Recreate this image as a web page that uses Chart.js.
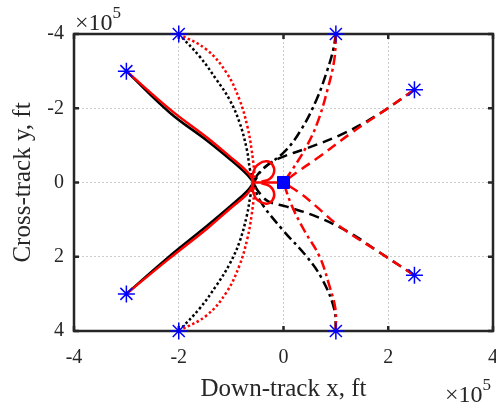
<!DOCTYPE html>
<html><head><meta charset="utf-8">
<script src="https://cdn.jsdelivr.net/npm/chart.js@4.4.1/dist/chart.umd.min.js"></script>
<style>html,body{margin:0;padding:0;background:#fff;overflow:hidden}canvas{display:block}</style>
</head><body>
<canvas id="c" width="496" height="408"></canvas>
<script>
// All positions in units of 1e5 ft
const xTicks = [-4, -2, 0, 2, 4];
const yTicks = [-4, -2, 0, 2, 4];
const expLabel = '5';

// start points (blue asterisks) and target (blue square)
const startPoints = [[-3,-3],[-2,-4],[1,-4],[2.5,-2.5],[2.5,2.5],[1,4],[-2,4],[-3,3]];
const targetPoint = [[0,0]];

// solid (from (-3,±3))
const blackSolidTop = [[-3,-3],[-2.17,-1.88],[-1.47,-1.14],[-1.0,-0.6],[-0.7,-0.22],[-0.57,0]];
const redSolidTop   = [[-3,-3],[-2.15,-1.95],[-1.45,-1.2],[-1.0,-0.67],[-0.7,-0.3],[-0.57,-0.05]];
const blackSolidBot = [[-3,3],[-2.23,2.05],[-1.47,1.18],[-1.0,0.62],[-0.7,0.24],[-0.57,0]];
const redSolidBot   = [[-3,3],[-2.2,2.07],[-1.45,1.23],[-1.0,0.68],[-0.7,0.32],[-0.57,0.05]];

// dotted (from (-2,±4))
const blackDotTop = [[-2,-4],[-1.6,-3.39],[-1.28,-2.77],[-1.03,-2.23],[-0.84,-1.62],[-0.7,-0.89],[-0.64,-0.35],[-0.57,0]];
const redDotTop   = [[-2,-4],[-1.47,-3.58],[-1.09,-2.96],[-0.84,-2.23],[-0.69,-1.51],[-0.61,-0.89],[-0.56,-0.3],[-0.55,-0.05]];
const blackDotBot = [[-2,4],[-1.6,3.39],[-1.28,2.77],[-1.03,2.2],[-0.84,1.6],[-0.7,0.89],[-0.63,0.35],[-0.57,0]];
const redDotBot   = [[-2,4],[-1.47,3.58],[-1.09,2.96],[-0.84,2.23],[-0.69,1.51],[-0.61,0.89],[-0.56,0.3],[-0.55,0.05]];

// dash-dot (from (1,±4))
const blackDdTop = [[1,-4],[0.95,-3.58],[0.84,-3.04],[0.63,-2.23],[0.34,-1.43],[0.02,-0.83],[-0.4,-0.35],[-0.57,0]];
const redDdTop   = [[1,-4],[0.97,-3.31],[0.84,-2.5],[0.65,-1.62],[0.44,-0.97],[0.17,-0.35],[0,0]];
const blackDdBot = [[1,4],[0.97,3.42],[0.74,2.61],[0.44,1.99],[-0.02,1.27],[-0.46,0.46],[-0.57,0]];
const redDdBot   = [[1,4],[0.99,3.4],[0.88,2.8],[0.69,2.0],[0.4,1.3],[0.15,0.6],[0,0]];

// dashed (from (2.5,±2.5))
const blackDashTop = [[2.5,-2.5],[1.77,-1.8],[1.07,-1.27],[0.44,-0.92],[-0.05,-0.67],[-0.3,-0.48],[-0.5,-0.2],[-0.57,0]];
const redDashTop   = [[2.5,-2.5],[1.96,-1.97],[1.31,-1.35],[0.69,-0.7],[0.25,-0.27],[0,0]];
const blackDashBot = [[2.5,2.5],[1.83,1.88],[1.26,1.35],[0.63,0.92],[0.06,0.65],[-0.3,0.5],[-0.5,0.2],[-0.57,0]];
const redDashBot   = [[2.5,2.5],[1.85,1.9],[1.07,1.18],[0.63,0.65],[0.35,0.32],[0,0]];

// terminal loops of red trajectories
const redLoopTop = [[-0.6,0],[-0.57,-0.3],[-0.47,-0.5],[-0.32,-0.57],[-0.21,-0.48],[-0.18,-0.28],[-0.26,-0.1],[-0.42,-0.02]];
const redLoopBot = [[-0.6,0],[-0.57,0.3],[-0.47,0.5],[-0.32,0.57],[-0.21,0.48],[-0.18,0.28],[-0.26,0.1],[-0.42,0.02]];
const redTail    = [[-0.6,0],[0,0]];

const FONT = 'Liberation Serif, Times New Roman, serif';
const AX = '#262626';
const pts = a => a.map(([x, y]) => ({x, y}));
const DOT = [2.5, 2.5], DASH = [10, 6], DASHDOT = [10, 4, 3, 4];

function line(data, color, dash, order, tension) {
  return {data: pts(data), borderColor: color, backgroundColor: color, borderWidth: 2.5,
    borderDash: dash, pointRadius: 0, showLine: true, fill: false,
    tension: tension === undefined ? 0.4 : tension, order, clip: false};
}

const datasets = [
  {data: pts(startPoints), pointStyle: 'star', pointRadius: 8.5, borderColor: '#0000ff',
   backgroundColor: '#0000ff', pointBorderWidth: 1.5, showLine: false, order: 0, clip: false},
  {data: pts(targetPoint), pointStyle: 'rect', pointRadius: 8.5, borderColor: '#0000ff',
   backgroundColor: '#0000ff', pointBorderWidth: 1, showLine: false, order: 0, clip: false},
  line(redSolidTop, '#ff0000', [], 1), line(redSolidBot, '#ff0000', [], 1),
  line(redDotTop, '#ff0000', DOT, 1), line(redDotBot, '#ff0000', DOT, 1),
  line(redDdTop, '#ff0000', DASHDOT, 1), line(redDdBot, '#ff0000', DASHDOT, 1),
  line(redDashTop, '#ff0000', DASH, 1), line(redDashBot, '#ff0000', DASH, 1),
  line(redLoopTop, '#ff0000', [], 1, 0.5), line(redLoopBot, '#ff0000', [], 1, 0.5),
  line(redTail, '#ff0000', [], 1, 0),
  line(blackSolidTop, '#000000', [], 2), line(blackSolidBot, '#000000', [], 2),
  line(blackDotTop, '#000000', DOT, 2), line(blackDotBot, '#000000', DOT, 2),
  line(blackDdTop, '#000000', DASHDOT, 2), line(blackDdBot, '#000000', DASHDOT, 2),
  line(blackDashTop, '#000000', DASH, 2), line(blackDashBot, '#000000', DASH, 2)
];

function drawExp(ctx, x, yBase) {
  ctx.font = '24px ' + FONT;
  ctx.textAlign = 'left';
  ctx.textBaseline = 'alphabetic';
  const base = '\u00d710';
  ctx.fillText(base, x, yBase);
  const w = ctx.measureText(base).width;
  ctx.font = '17px ' + FONT;
  ctx.fillText(expLabel, x + w, yBase - 12);
}

const framePlugin = {
  id: 'frame',
  beforeDatasetsDraw(chart) {
    const {ctx, chartArea: a, scales: {x, y}} = chart;
    ctx.save();
    ctx.strokeStyle = AX;
    ctx.lineWidth = 2.5;
    ctx.strokeRect(a.left, a.top, a.right - a.left, a.bottom - a.top);
    const t = 5;
    ctx.beginPath();
    xTicks.forEach(v => {
      const p = x.getPixelForValue(v);
      ctx.moveTo(p, a.bottom); ctx.lineTo(p, a.bottom - t);
      ctx.moveTo(p, a.top); ctx.lineTo(p, a.top + t);
    });
    yTicks.forEach(v => {
      const p = y.getPixelForValue(v);
      ctx.moveTo(a.left, p); ctx.lineTo(a.left + t, p);
      ctx.moveTo(a.right, p); ctx.lineTo(a.right - t, p);
    });
    ctx.stroke();
    ctx.fillStyle = AX;
    drawExp(ctx, a.left + 1, a.top - 4);
    drawExp(ctx, a.right - 48, a.bottom + 71);
    ctx.restore();
  }
};

const tickFont = {family: FONT, size: 20};
const titleFont = {family: FONT, size: 25};

new Chart(document.getElementById('c'), {
  type: 'scatter',
  data: {datasets},
  options: {
    responsive: false, animation: false,
    layout: {autoPadding: false, padding: {left: 0, right: 3, top: 34, bottom: 0}},
    plugins: {legend: {display: false}, tooltip: {enabled: false}},
    scales: {
      x: {
        type: 'linear', min: -4, max: 4,
        afterBuildTicks: s => { s.ticks = xTicks.map(v => ({value: v})); },
        ticks: {font: tickFont, color: AX, padding: 15, maxRotation: 0, autoSkip: false, callback: v => String(v)},
        grid: {color: '#cccccc', lineWidth: 1, drawTicks: false},
        border: {display: false, dash: [2, 2]},
        title: {display: true, text: 'Down-track x, ft', font: titleFont, color: AX, padding: {top: 0, bottom: 4}},
        afterFit: s => { s.height = 77; s.paddingLeft = 0; s.paddingRight = 0; }
      },
      y: {
        type: 'linear', min: -4, max: 4, reverse: true,
        afterBuildTicks: s => { s.ticks = yTicks.map(v => ({value: v})); },
        ticks: {font: tickFont, color: AX, padding: 10, autoSkip: false, callback: v => String(v)},
        grid: {color: '#cccccc', lineWidth: 1, drawTicks: false},
        border: {display: false, dash: [2, 2]},
        title: {display: true, text: 'Cross-track y, ft', font: titleFont, color: AX, padding: {top: 8, bottom: 0}},
        afterFit: s => { s.width = 74; s.paddingTop = 0; s.paddingBottom = 0; }
      }
    }
  },
  plugins: [framePlugin]
});
</script>
</body></html>
